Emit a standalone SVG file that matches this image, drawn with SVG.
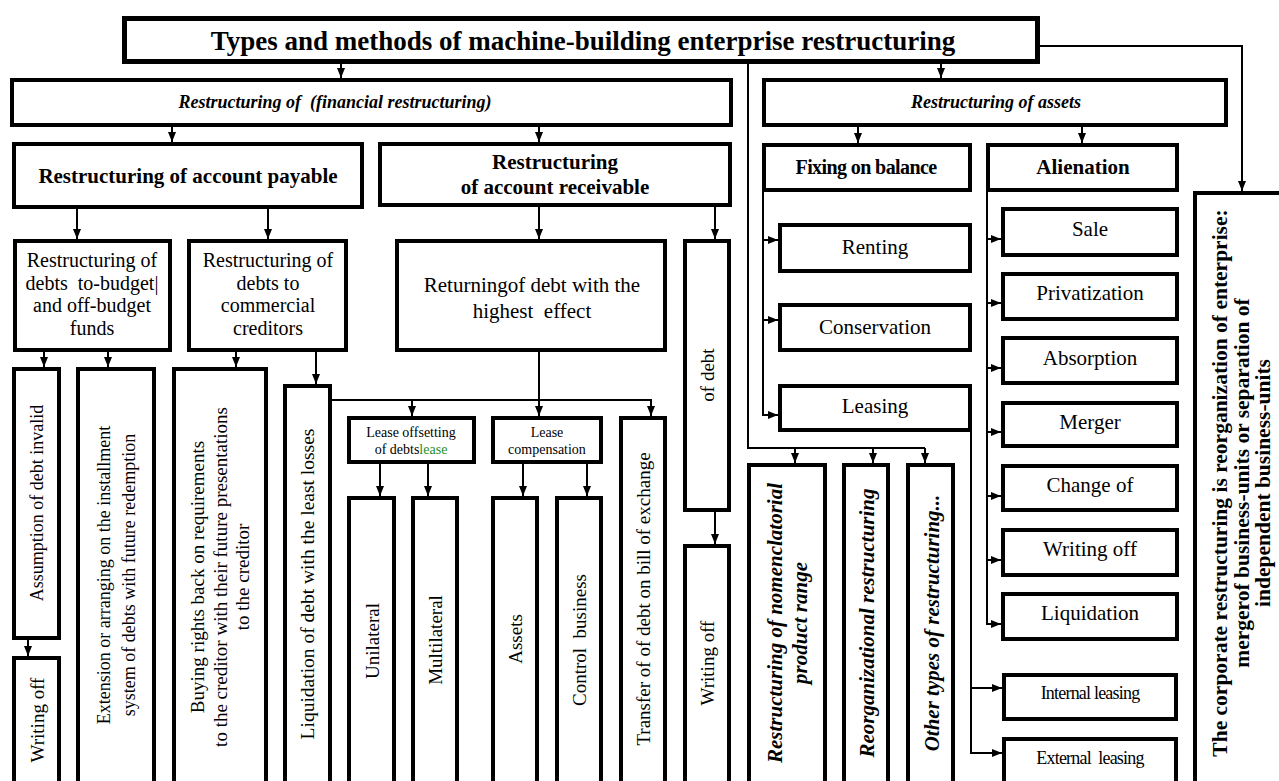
<svg xmlns="http://www.w3.org/2000/svg" width="1279" height="781" viewBox="0 0 1279 781">
<style>
text{font-family:'Liberation Serif','Times New Roman',serif;fill:#000}
.n{fill:#fff;stroke:#000;stroke-width:4}
.t{fill:#fff;stroke:#000;stroke-width:5}
.c{fill:none;stroke:#000;stroke-width:2}
.a{marker-end:url(#ah)}
.m{text-anchor:middle}
.v{text-anchor:middle;dominant-baseline:central}
.b{font-weight:bold}
.i{font-style:italic}
.g{fill:#1f8f1f}
</style>
<defs>
<marker id="ah" markerUnits="userSpaceOnUse" markerWidth="10" markerHeight="8" refX="10" refY="4" orient="auto"><path d="M0,0 L10,4 L0,8 z" fill="#000"/></marker>
</defs>
<rect width="1279" height="781" fill="#fff"/>
<g id="connectors">
<path class="c a" d="M341,64 V78"/>
<path class="c a" d="M941,64 V78"/>
<path class="c a" d="M1040,46 H1242 V191"/>
<path class="c" d="M748,64 V448 H925"/>
<path class="c a" d="M795,448 V463"/>
<path class="c a" d="M873,448 V463"/>
<path class="c a" d="M925,448 V463"/>
<path class="c a" d="M172,127 V142"/>
<path class="c a" d="M539,127 V142"/>
<path class="c a" d="M858,127 V143"/>
<path class="c a" d="M1082,127 V143"/>
<path class="c a" d="M77,209 V239"/>
<path class="c a" d="M268,209 V239"/>
<path class="c a" d="M44,352 V367"/>
<path class="c a" d="M108,352 V367"/>
<path class="c a" d="M236,352 V367"/>
<path class="c a" d="M316,352 V384"/>
<path class="c a" d="M28,640 V656"/>
<path class="c a" d="M332,400 H651 V416"/>
<path class="c a" d="M412,400 V416"/>
<path class="c a" d="M539,352 V416"/>
<path class="c a" d="M380,464 V496"/>
<path class="c a" d="M428,464 V496"/>
<path class="c a" d="M523,464 V496"/>
<path class="c a" d="M587,464 V496"/>
<path class="c a" d="M539,207 V239"/>
<path class="c a" d="M715,207 V239"/>
<path class="c a" d="M715,512 V544"/>
<path class="c a" d="M763,192 V415 H778"/>
<path class="c a" d="M763,240 H778"/>
<path class="c a" d="M763,320 H778"/>
<path class="c a" d="M987,192 V624 H1001"/>
<path class="c a" d="M987,239 H1001"/>
<path class="c a" d="M987,303 H1001"/>
<path class="c a" d="M987,368 H1001"/>
<path class="c a" d="M987,432 H1001"/>
<path class="c a" d="M987,496 H1001"/>
<path class="c a" d="M987,560 H1001"/>
<path class="c a" d="M971,432 V753 H1002"/>
<path class="c a" d="M971,688 H1002"/>
</g>
<g id="n-title"><rect class="t" x="124.5" y="18.5" width="913" height="43"/><text class="m b" x="583" y="50" font-size="27">Types and methods of machine-building enterprise restructuring</text></g>
<g id="n-financial"><rect class="n" x="12" y="80" width="719" height="45"/><text class="m b i" x="335" y="108" font-size="18" xml:space="preserve">Restructuring of  (financial restructuring)</text></g>
<g id="n-assets"><rect class="n" x="764" y="80" width="462" height="45"/><text class="m b i" x="996" y="108" font-size="18">Restructuring of assets</text></g>
<g id="n-payable"><rect class="n" x="14" y="144" width="348" height="63"/><text class="m b" x="188" y="183" font-size="21">Restructuring of account payable</text></g>
<g id="n-receivable"><rect class="n" x="380" y="144" width="350" height="61"/><text class="m b" font-size="21"><tspan x="555" y="169">Restructuring</tspan><tspan x="555" y="194">of account receivable</tspan></text></g>
<g id="n-fixing"><rect class="n" x="764" y="145" width="206" height="45"/><text class="m b" x="866" y="174" font-size="20" letter-spacing="-0.6">Fixing on balance</text></g>
<g id="n-alienation"><rect class="n" x="988" y="145" width="189" height="45"/><text class="m b" x="1083" y="174" font-size="21">Alienation</text></g>
<g id="n-budget"><rect class="n" x="15" y="241" width="155" height="109"/><text class="m" font-size="20" xml:space="preserve"><tspan x="92" y="267">Restructuring of</tspan><tspan x="92" y="290">debts  to-budget|</tspan><tspan x="92" y="312">and off-budget</tspan><tspan x="92" y="335">funds</tspan></text></g>
<g id="n-commercial"><rect class="n" x="189" y="241" width="157" height="109"/><text class="m" font-size="20"><tspan x="268" y="267">Restructuring of</tspan><tspan x="268" y="290">debts to</tspan><tspan x="268" y="312">commercial</tspan><tspan x="268" y="335">creditors</tspan></text></g>
<g id="n-returning"><rect class="n" x="397" y="241" width="268" height="109"/><text class="m" font-size="21" xml:space="preserve"><tspan x="532" y="292">Returningof debt with the</tspan><tspan x="532" y="318">highest  effect</tspan></text></g>
<g id="n-ofdebt"><rect class="n" x="685" y="241" width="44" height="269"/><text class="v" transform="translate(707,375) rotate(-90)" font-size="19">of debt</text></g>
<g id="n-assumption"><rect class="n" x="14" y="369" width="45" height="269"/><text class="v" transform="translate(37,503) rotate(-90)" font-size="18">Assumption of debt invalid</text></g>
<g id="n-writeoff1"><rect class="n" x="14" y="658" width="45" height="140"/><text class="v" transform="translate(37,720) rotate(-90)" font-size="19">Writing off</text></g>
<g id="n-extension"><rect class="n" x="78" y="369" width="76" height="430"/><text class="v" transform="translate(116,575) rotate(-90)" font-size="18"><tspan x="0" y="-12.5">Extension or arranging on the installment</tspan><tspan x="0" y="12.5">system of debts with future redemption</tspan></text></g>
<g id="n-buying"><rect class="n" x="174" y="369" width="92" height="430"/><text class="v" transform="translate(220,577) rotate(-90)" font-size="19"><tspan x="0" y="-23">Buying rights back on requirements</tspan><tspan x="0" y="0">to the creditor with their future presentations</tspan><tspan x="0" y="22">to the creditor</tspan></text></g>
<g id="n-liquidation1"><rect class="n" x="285" y="386" width="45" height="410"/><text class="v" transform="translate(307,584) rotate(-90)" font-size="19.5">Liquidation of debt with the least losses</text></g>
<g id="n-leaseoff"><rect class="n" x="349" y="418" width="125" height="44"/><text class="m" font-size="14"><tspan x="411" y="437">Lease offsetting</tspan><tspan x="411" y="454">of debts<tspan class="g">lease</tspan></tspan></text></g>
<g id="n-leasecomp"><rect class="n" x="493" y="418" width="108" height="44"/><text class="m" font-size="14"><tspan x="547" y="437">Lease</tspan><tspan x="547" y="454">compensation</tspan></text></g>
<g id="n-transfer"><rect class="n" x="621" y="418" width="44" height="380"/><text class="v" transform="translate(643,599) rotate(-90)" font-size="19">Transfer of of debt on bill of exchange</text></g>
<g id="n-unilateral"><rect class="n" x="349" y="498" width="45" height="300"/><text class="v" transform="translate(372,641) rotate(-90)" font-size="19">Unilateral</text></g>
<g id="n-multilateral"><rect class="n" x="413" y="498" width="44" height="300"/><text class="v" transform="translate(435,640) rotate(-90)" font-size="19">Multilateral</text></g>
<g id="n-assets2"><rect class="n" x="493" y="498" width="44" height="300"/><text class="v" transform="translate(515,639) rotate(-90)" font-size="19">Assets</text></g>
<g id="n-control"><rect class="n" x="557" y="498" width="44" height="300"/><text class="v" transform="translate(579,640) rotate(-90)" font-size="19" xml:space="preserve">Control  business</text></g>
<g id="n-writeoff2"><rect class="n" x="685" y="546" width="44" height="250"/><text class="v" transform="translate(707,663) rotate(-90)" font-size="19">Writing off</text></g>
<g id="n-nomenclatorial"><rect class="n" x="749" y="465" width="76" height="330"/><text class="v b i" transform="translate(787,623) rotate(-90)" font-size="21"><tspan x="0" y="-12.5">Restructuring of nomenclatorial</tspan><tspan x="0" y="12.5">product range</tspan></text></g>
<g id="n-reorg"><rect class="n" x="844" y="465" width="44" height="330"/><text class="v b i" transform="translate(867,623) rotate(-90)" font-size="21">Reorganizational restructuring</text></g>
<g id="n-other"><rect class="n" x="908" y="465" width="45" height="330"/><text class="v b i" transform="translate(932,623) rotate(-90)" font-size="21">Other types of restructuring...</text></g>
<g id="n-renting"><rect class="n" x="780" y="225" width="190" height="46"/><text class="m" x="875" y="254" font-size="21">Renting</text></g>
<g id="n-conservation"><rect class="n" x="780" y="305" width="190" height="45"/><text class="m" x="875" y="334" font-size="21">Conservation</text></g>
<g id="n-leasing"><rect class="n" x="780" y="386" width="190" height="44"/><text class="m" x="875" y="413" font-size="21">Leasing</text></g>
<g id="n-sale"><rect class="n" x="1003" y="209" width="174" height="46"/><text class="m" x="1090" y="236" font-size="21">Sale</text></g>
<g id="n-privatization"><rect class="n" x="1003" y="274" width="174" height="45"/><text class="m" x="1090" y="300" font-size="21">Privatization</text></g>
<g id="n-absorption"><rect class="n" x="1003" y="338" width="174" height="45"/><text class="m" x="1090" y="365" font-size="21">Absorption</text></g>
<g id="n-merger"><rect class="n" x="1003" y="403" width="174" height="43"/><text class="m" x="1090" y="429" font-size="21">Merger</text></g>
<g id="n-change"><rect class="n" x="1003" y="466" width="174" height="44"/><text class="m" x="1090" y="492" font-size="21">Change of</text></g>
<g id="n-writeoff3"><rect class="n" x="1003" y="530" width="174" height="45"/><text class="m" x="1090" y="556" font-size="21">Writing off</text></g>
<g id="n-liquidation2"><rect class="n" x="1003" y="594" width="174" height="45"/><text class="m" x="1090" y="620" font-size="21">Liquidation</text></g>
<g id="n-internal"><rect class="n" x="1004" y="675" width="172" height="44"/><text class="m" x="1090" y="699" font-size="18" letter-spacing="-0.8">Internal leasing</text></g>
<g id="n-external"><rect class="n" x="1004" y="739" width="172" height="60"/><text class="m" x="1090" y="764" font-size="18" letter-spacing="-0.8" xml:space="preserve">External  leasing</text></g>
<g id="n-corporate"><rect class="n" x="1195" y="193" width="100" height="600"/><text class="v b" transform="translate(1242,483) rotate(-90)" font-size="21.5"><tspan x="0" y="-22">The corporate restructuring is reorganization of enterprise:</tspan><tspan x="0" y="0">mergerof business-units or separation of</tspan><tspan x="0" y="21">independent business-units</tspan></text></g>
</svg>
